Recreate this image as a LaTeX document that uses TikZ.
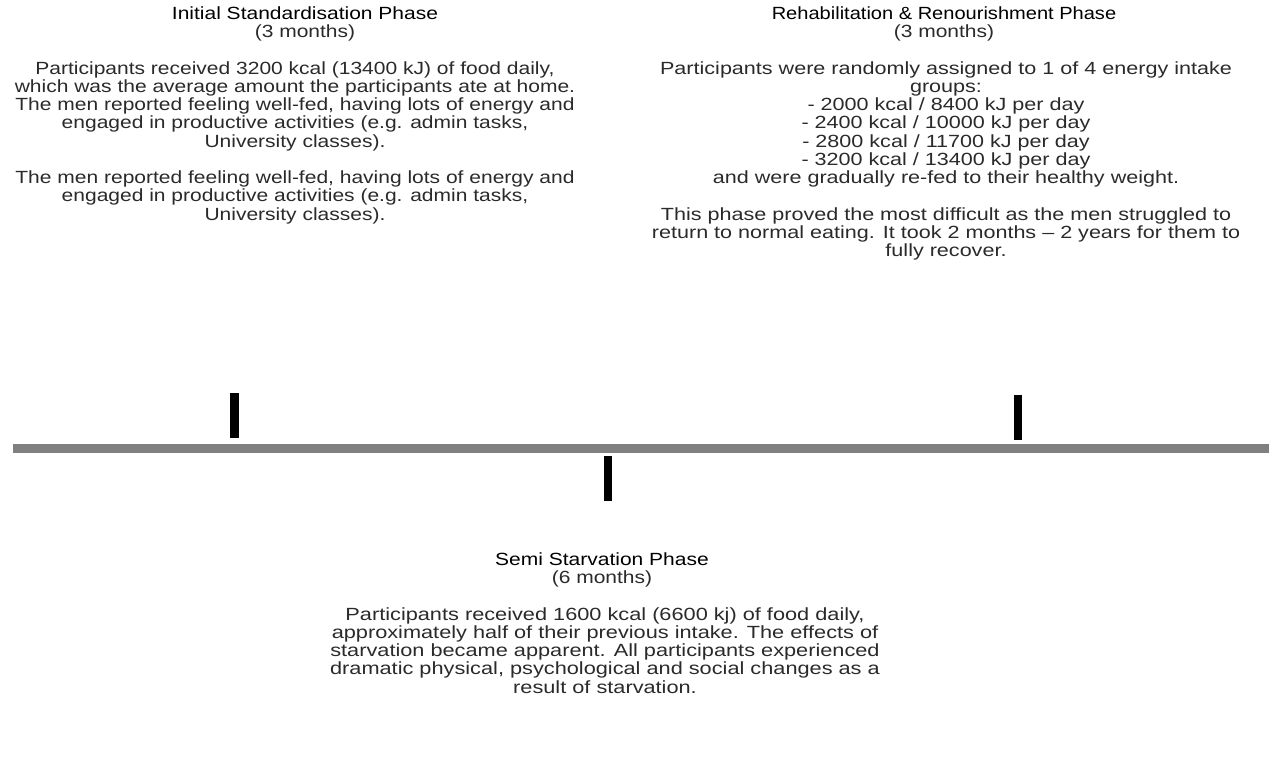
\documentclass[tikz,border=0pt]{standalone}
\usepackage{fontspec}
\usepackage{graphicx}
\setmainfont{Liberation Sans}
\definecolor{bodytext}{HTML}{2A2A2A}
\definecolor{axisgray}{HTML}{808080}
\newcommand\phasetext[2]{\scalebox{#1}[0.84]{\begin{tabular}{@{}c@{}}#2\end{tabular}}}
\begin{document}
\begin{tikzpicture}[x=1pt,y=-1pt,
  phase/.style={inner sep=0pt, anchor=north, text=bodytext,
    font=\fontsize{21}{21.67}\selectfont},
  ttl/.style={phase, text=black},
  tickmark/.style={line width=8.5pt, black},
  axis/.style={line width=9pt, axisgray}]
\useasboundingbox (0,0) rectangle (1270,761);

% timeline
\coordinate (axL) at (13,448.5);
\coordinate (axR) at (1269,448.5);
\draw[axis] (axL) -- (axR);

% ticks
\coordinate (t1a) at (234.5,393);
\coordinate (t1b) at (234.5,438);
\coordinate (t2a) at (608,456);
\coordinate (t2b) at (608,501);
\coordinate (t3a) at (1018,395);
\coordinate (t3b) at (1018,440);
\draw[tickmark] (t1a) -- (t1b);
\draw[tickmark] (t2a) -- (t2b);
\draw[tickmark] (t3a) -- (t3b);

% initial phase
\node[ttl] (initialT) at (305,6.6) {\phasetext{1}{Initial Standardisation Phase\\
\color{bodytext}(3 months)}};
\node[phase] (initial) at (295,61.2) {\phasetext{1}{%
Participants received 3200 kcal (13400 kJ) of food daily,\\
which was the average amount the participants ate at home.\\
The men reported feeling well-fed, having lots of energy and\\
engaged in productive activities (e.g. admin tasks,\\
University classes).\\
\\
The men reported feeling well-fed, having lots of energy and\\
engaged in productive activities (e.g. admin tasks,\\
University classes).}};

% rehabilitation phase
\node[ttl] (rehabT) at (944,6.6) {\phasetext{1}{\scalebox{0.955}[1]{Rehabilitation \& Renourishment Phase}\\
\color{bodytext}(3 months)}};
\node[phase] (rehab) at (946,61.2) {\phasetext{1.027}{%
Participants were randomly assigned to 1 of 4 energy intake\\
groups:\\
- 2000 kcal / 8400 kJ per day\\
- 2400 kcal / 10000 kJ per day\\
- 2800 kcal / 11700 kJ per day\\
- 3200 kcal / 13400 kJ per day\\
and were gradually re-fed to their healthy weight.\\
\\
This phase proved the most difficult as the men struggled to\\
return to normal eating. It took 2 months – 2 years for them to\\
fully recover.}};

% semi starvation phase
\node[ttl] (semiT) at (602,552.6) {\phasetext{1}{Semi Starvation Phase\\
\color{bodytext}(6 months)}};
\node[phase] (semi) at (605,607.2) {\phasetext{1.035}{%
Participants received 1600 kcal (6600 kj) of food daily,\\
approximately half of their previous intake. The effects of\\
starvation became apparent. All participants experienced\\
dramatic physical, psychological and social changes as a\\
result of starvation.}};
\end{tikzpicture}
\end{document}
